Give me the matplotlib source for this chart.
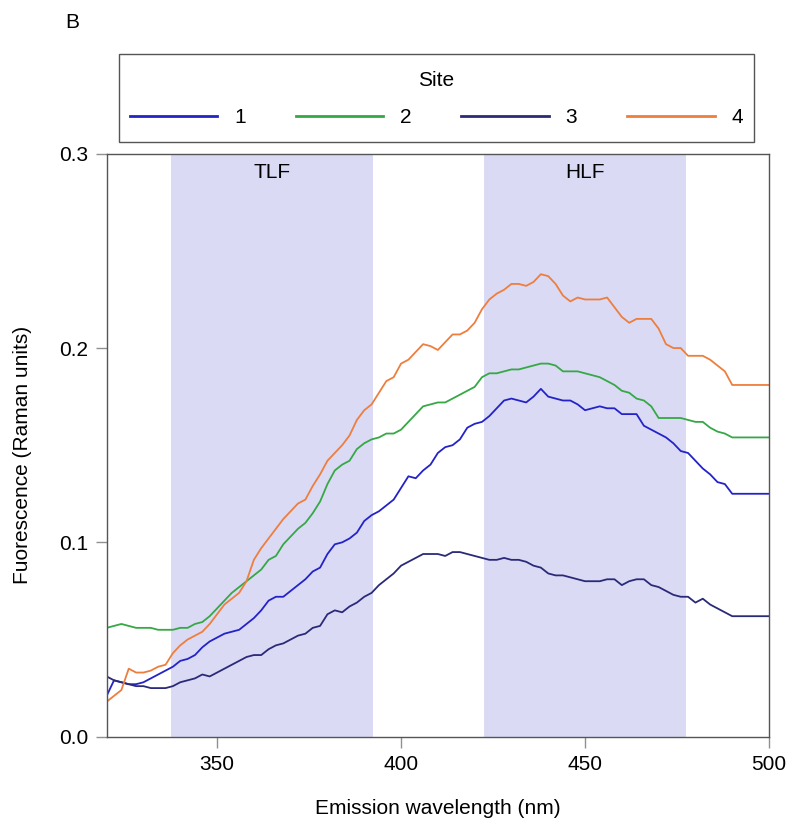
import numpy as np
import matplotlib
matplotlib.use('Agg')
import matplotlib.pyplot as plt
from matplotlib.patches import Rectangle

plt.rcParams['font.family'] = ['Liberation Sans', 'DejaVu Sans']

# emission wavelength (nm), 2 nm steps, last value held flat to 500
wavelength = list(range(320, 492, 2)) + [500]

site1 = [0.021, 0.029, 0.028, 0.027, 0.027, 0.028, 0.030, 0.032, 0.034, 0.036,
         0.039, 0.040, 0.042, 0.046, 0.049, 0.051, 0.053, 0.054, 0.055, 0.058,
         0.061, 0.065, 0.070, 0.072, 0.072, 0.075, 0.078, 0.081, 0.085, 0.087,
         0.094, 0.099, 0.100, 0.102, 0.105, 0.111, 0.114, 0.116, 0.119, 0.122,
         0.128, 0.134, 0.133, 0.137, 0.140, 0.146, 0.149, 0.150, 0.153, 0.159,
         0.161, 0.162, 0.165, 0.169, 0.173, 0.174, 0.173, 0.172, 0.175, 0.179,
         0.175, 0.174, 0.173, 0.173, 0.171, 0.168, 0.169, 0.170, 0.169, 0.169,
         0.166, 0.166, 0.166, 0.160, 0.158, 0.156, 0.154, 0.151, 0.147, 0.146,
         0.142, 0.138, 0.135, 0.131, 0.130, 0.125, 0.125]

site2 = [0.056, 0.057, 0.058, 0.057, 0.056, 0.056, 0.056, 0.055, 0.055, 0.055,
         0.056, 0.056, 0.058, 0.059, 0.062, 0.066, 0.070, 0.074, 0.077, 0.080,
         0.083, 0.086, 0.091, 0.093, 0.099, 0.103, 0.107, 0.110, 0.115, 0.121,
         0.130, 0.137, 0.140, 0.142, 0.148, 0.151, 0.153, 0.154, 0.156, 0.156,
         0.158, 0.162, 0.166, 0.170, 0.171, 0.172, 0.172, 0.174, 0.176, 0.178,
         0.180, 0.185, 0.187, 0.187, 0.188, 0.189, 0.189, 0.190, 0.191, 0.192,
         0.192, 0.191, 0.188, 0.188, 0.188, 0.187, 0.186, 0.185, 0.183, 0.181,
         0.178, 0.177, 0.174, 0.173, 0.170, 0.164, 0.164, 0.164, 0.164, 0.163,
         0.162, 0.162, 0.159, 0.157, 0.156, 0.154, 0.154]

site3 = [0.031, 0.029, 0.028, 0.027, 0.026, 0.026, 0.025, 0.025, 0.025, 0.026,
         0.028, 0.029, 0.030, 0.032, 0.031, 0.033, 0.035, 0.037, 0.039, 0.041,
         0.042, 0.042, 0.045, 0.047, 0.048, 0.050, 0.052, 0.053, 0.056, 0.057,
         0.063, 0.065, 0.064, 0.067, 0.069, 0.072, 0.074, 0.078, 0.081, 0.084,
         0.088, 0.090, 0.092, 0.094, 0.094, 0.094, 0.093, 0.095, 0.095, 0.094,
         0.093, 0.092, 0.091, 0.091, 0.092, 0.091, 0.091, 0.090, 0.088, 0.087,
         0.084, 0.083, 0.083, 0.082, 0.081, 0.080, 0.080, 0.080, 0.081, 0.081,
         0.078, 0.080, 0.081, 0.081, 0.078, 0.077, 0.075, 0.073, 0.072, 0.072,
         0.069, 0.071, 0.068, 0.066, 0.064, 0.062, 0.062]

site4 = [0.018, 0.021, 0.024, 0.035, 0.033, 0.033, 0.034, 0.036, 0.037, 0.043,
         0.047, 0.050, 0.052, 0.054, 0.058, 0.063, 0.068, 0.071, 0.074, 0.080,
         0.091, 0.097, 0.102, 0.107, 0.112, 0.116, 0.120, 0.122, 0.129, 0.135,
         0.142, 0.146, 0.150, 0.155, 0.163, 0.168, 0.171, 0.177, 0.183, 0.185,
         0.192, 0.194, 0.198, 0.202, 0.201, 0.199, 0.203, 0.207, 0.207, 0.209,
         0.213, 0.220, 0.225, 0.228, 0.230, 0.233, 0.233, 0.232, 0.234, 0.238,
         0.237, 0.233, 0.227, 0.224, 0.226, 0.225, 0.225, 0.225, 0.226, 0.221,
         0.216, 0.213, 0.215, 0.215, 0.215, 0.210, 0.202, 0.200, 0.200, 0.196,
         0.196, 0.196, 0.194, 0.191, 0.188, 0.181, 0.181]

site_labels = ['1', '2', '3', '4']
site_colors = ['#2323c8', '#36a845', '#2b2a78', '#ee7e3e']

# shaded fluorescence regions: (name, start, end)
regions = [('TLF', 337.5, 392.5), ('HLF', 422.5, 477.5)]

W, H = 786, 823
fig = plt.figure(figsize=(W / 100, H / 100), dpi=100)
ax = fig.add_axes([0.1357, 0.1049, 0.8427, 0.7083])

for name, x0, x1 in regions:
    ax.axvspan(x0, x1, color='#dadaf5', lw=0, zorder=0)
    ax.text((x0 + x1) / 2, 0.2906, name, ha='center', va='center', fontsize=15)

for vals, lbl, col in zip([site1, site2, site3, site4], site_labels, site_colors):
    ax.plot(wavelength, vals, color=col, lw=1.3, label=lbl)

ax.set_xlim(320, 500)
ax.set_ylim(0, 0.3)
ax.set_xticks([350, 400, 450, 500])
ax.set_yticks([0.0, 0.1, 0.2, 0.3])
ax.set_yticklabels(['0.0', '0.1', '0.2', '0.3'])
ax.tick_params(direction='out', length=8, width=1, color='#909090',
               labelsize=15, pad=5)
for s in ax.spines.values():
    s.set_color('#555555')
    s.set_linewidth(1)

ax.set_xlabel('Emission wavelength (nm)', fontsize=15, labelpad=18)
ax.set_ylabel('Fuorescence (Raman units)', fontsize=15)
ax.yaxis.set_label_coords(-0.112, 0.483)

# legend box drawn as a figure patch, legend itself frameless
fig.patches.append(Rectangle((119 / W, 1 - 142 / H), (754 - 119) / W, 88 / H,
                             transform=fig.transFigure, fill=False,
                             edgecolor='#555555', lw=1))
h, l = ax.get_legend_handles_labels()
leg = fig.legend(h, l, title='Site', ncol=4, loc='center',
                 bbox_to_anchor=(436.5 / W, 1 - 99 / H),
                 fontsize=15, title_fontsize=15, frameon=False,
                 handlelength=4.2, handletextpad=0.8, columnspacing=2.4,
                 borderpad=0.5, labelspacing=0.85)
for line in leg.get_lines():
    line.set_linewidth(2)

fig.text(72 / W, 1 - 22 / H, 'B', fontsize=15, ha='center', va='center')

fig.savefig('out.png', dpi=100, facecolor='white')
